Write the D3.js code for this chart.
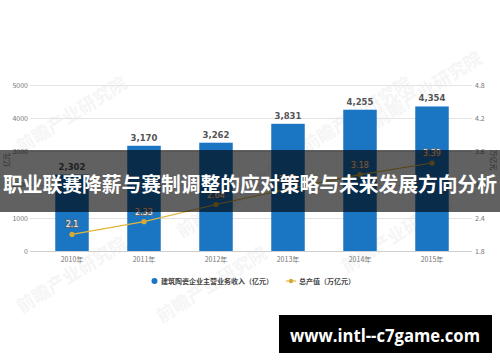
<!DOCTYPE html>
<html>
<head>
<meta charset="utf-8">
<script src="https://cdn.jsdelivr.net/npm/d3@7"></script>
<style>
  body { margin: 0; background: #fff; }
  svg { display: block; font-family: "Noto Sans CJK SC", "Noto Sans", sans-serif; }
</style>
</head>
<body>
<div class="chart"></div>
<script>
const years = ['2010年', '2011年', '2012年', '2013年', '2014年', '2015年'];
const revenue = [2302, 3170, 3262, 3831, 4255, 4354];
const output = [2.1, 2.33, 2.64, 2.92, 3.18, 3.39];
const leftTicks = [0, 1000, 2000, 3000, 4000, 5000];
const rightTicks = [1.8, 2.4, 3.0, 3.6, 4.2, 4.8];
const legendLabels = ['建筑陶瓷企业主营业务收入（亿元）', '总产值（万亿元）'];
const title = '职业联赛降薪与赛制调整的应对策略与未来发展方向分析';
const siteText = 'www.intl--c7game.com';

const width = 500, height = 362;
const barColor = '#1a75c2';
const lineColor = '#e2b53c';

const svg = d3.select('.chart')
    .append('svg')
    .attr('width', width)
    .attr('height', height);

const xScale = d3.scaleBand()
    .domain(years)
    .range([36, 468])
    .paddingInner(0.535)
    .paddingOuter(0.2675);

const yLeft = d3.scaleLinear().domain([0, 5000]).range([251, 85]);
const yRight = d3.scaleLinear().domain([1.8, 4.8]).range([251, 85]);

// faint watermarks
const marks = [[75, 120], [235, 205], [360, 120], [430, 95], [400, 240], [215, 290], [75, 280]];
svg.append('g')
    .selectAll('text')
    .data(marks)
    .enter()
    .append('text')
    .attr('transform', d => `translate(${d[0]},${d[1]}) rotate(-32)`)
    .attr('text-anchor', 'middle')
    .attr('font-size', 18)
    .attr('font-weight', 'bold')
    .attr('fill', '#000')
    .attr('opacity', 0.035)
    .text('前瞻产业研究院');

// gridlines
svg.append('g')
    .selectAll('line')
    .data(leftTicks)
    .enter()
    .append('line')
    .attr('x1', 30)
    .attr('x2', 472)
    .attr('y1', d => Math.round(yLeft(d)) + 0.5)
    .attr('y2', d => Math.round(yLeft(d)) + 0.5)
    .attr('stroke', d => d === 0 ? '#cfcfcf' : '#e4e4e4')
    .attr('stroke-width', 1);

// axes
const leftAxis = svg.append('g')
    .attr('transform', 'translate(29,0)')
    .call(d3.axisLeft(yLeft).tickValues(leftTicks).tickSize(0).tickPadding(1).tickFormat(d3.format('d')));
const rightAxis = svg.append('g')
    .attr('transform', 'translate(473,0)')
    .call(d3.axisRight(yRight).tickValues(rightTicks).tickSize(0).tickPadding(2).tickFormat(d3.format('.1f')));
const bottomAxis = svg.append('g')
    .attr('transform', 'translate(0,251)')
    .call(d3.axisBottom(xScale).tickSize(0).tickPadding(6));

[leftAxis, rightAxis, bottomAxis].forEach(a => {
    a.select('.domain').remove();
    a.selectAll('text')
        .attr('font-size', 7)
        .attr('fill', '#777')
        .attr('font-family', '"Noto Sans CJK SC", sans-serif');
});

svg.append('text')
    .attr('transform', 'translate(9,160) rotate(-90)')
    .attr('text-anchor', 'middle')
    .attr('font-size', 7)
    .attr('fill', '#777')
    .text('亿元');
svg.append('text')
    .attr('transform', 'translate(491,160) rotate(90)')
    .attr('text-anchor', 'middle')
    .attr('font-size', 7)
    .attr('fill', '#777')
    .text('万亿元');

// bars
svg.append('g')
    .selectAll('rect')
    .data(revenue)
    .enter()
    .append('rect')
    .attr('x', (d, i) => xScale(years[i]))
    .attr('y', d => yLeft(d))
    .attr('width', xScale.bandwidth())
    .attr('height', d => yLeft(0) - yLeft(d))
    .attr('fill', barColor);

svg.append('g')
    .selectAll('text')
    .data(revenue)
    .enter()
    .append('text')
    .attr('x', (d, i) => xScale(years[i]) + xScale.bandwidth() / 2)
    .attr('y', d => yLeft(d) - 5)
    .attr('text-anchor', 'middle')
    .attr('font-size', 8.5)
    .attr('font-weight', 'bold')
    .attr('fill', '#555')
    .attr('font-family', '"DejaVu Sans", sans-serif')
    .text(d => d3.format(',')(d));

// line series
const line = d3.line()
    .x((d, i) => xScale(years[i]) + xScale.bandwidth() / 2)
    .y(d => yRight(d));

svg.append('path')
    .datum(output)
    .attr('d', line)
    .attr('fill', 'none')
    .attr('stroke', lineColor)
    .attr('stroke-width', 1.2);

svg.append('g')
    .selectAll('circle')
    .data(output)
    .enter()
    .append('circle')
    .attr('cx', (d, i) => xScale(years[i]) + xScale.bandwidth() / 2)
    .attr('cy', d => yRight(d))
    .attr('r', 2.6)
    .attr('fill', '#d9a935');

svg.append('g')
    .selectAll('text')
    .data(output)
    .enter()
    .append('text')
    .attr('x', (d, i) => xScale(years[i]) + xScale.bandwidth() / 2)
    .attr('y', d => yRight(d) - 7)
    .attr('text-anchor', 'middle')
    .attr('font-size', 8)
    .attr('font-family', '"DejaVu Sans", sans-serif')
    .attr('fill', '#f4f4f4')
    .attr('stroke', '#666')
    .attr('stroke-width', 1.6)
    .attr('paint-order', 'stroke')
    .text(d => d);

// legend
const legend = svg.append('g').attr('font-size', 7).attr('fill', '#444');
legend.append('circle')
    .attr('cx', 154.5)
    .attr('cy', 281)
    .attr('r', 3)
    .attr('fill', barColor);
legend.append('text')
    .attr('x', 161)
    .attr('y', 283.5)
    .attr('font-weight', 'bold')
    .text(legendLabels[0]);
legend.append('line')
    .attr('x1', 286)
    .attr('x2', 296)
    .attr('y1', 281)
    .attr('y2', 281)
    .attr('stroke', lineColor)
    .attr('stroke-width', 1.2);
legend.append('circle')
    .attr('cx', 291)
    .attr('cy', 281)
    .attr('r', 2.2)
    .attr('fill', '#d9a935');
legend.append('text')
    .attr('x', 299)
    .attr('y', 283.5)
    .attr('font-weight', 'bold')
    .text(legendLabels[1]);

// title banner over the chart
svg.append('rect')
    .attr('x', 0)
    .attr('y', 150)
    .attr('width', width)
    .attr('height', 62)
    .attr('fill', 'rgba(0,0,0,0.62)');
svg.append('text')
    .attr('x', width / 2)
    .attr('y', 192)
    .attr('text-anchor', 'middle')
    .attr('font-size', 20)
    .attr('font-weight', 'bold')
    .attr('fill', '#fff')
    .attr('textLength', 494)
    .attr('lengthAdjust', 'spacingAndGlyphs')
    .text(title);

// site banner
svg.append('rect')
    .attr('x', 279)
    .attr('y', 315)
    .attr('width', 213)
    .attr('height', 38)
    .attr('fill', '#000');
svg.append('text')
    .attr('x', 385)
    .attr('y', 342)
    .attr('text-anchor', 'middle')
    .attr('font-size', 18)
    .attr('font-weight', 'bold')
    .attr('font-family', '"Open Sans", "DejaVu Sans", sans-serif')
    .attr('fill', '#fff')
    .attr('textLength', 190)
    .attr('lengthAdjust', 'spacingAndGlyphs')
    .text(siteText);
</script>
</body>
</html>
